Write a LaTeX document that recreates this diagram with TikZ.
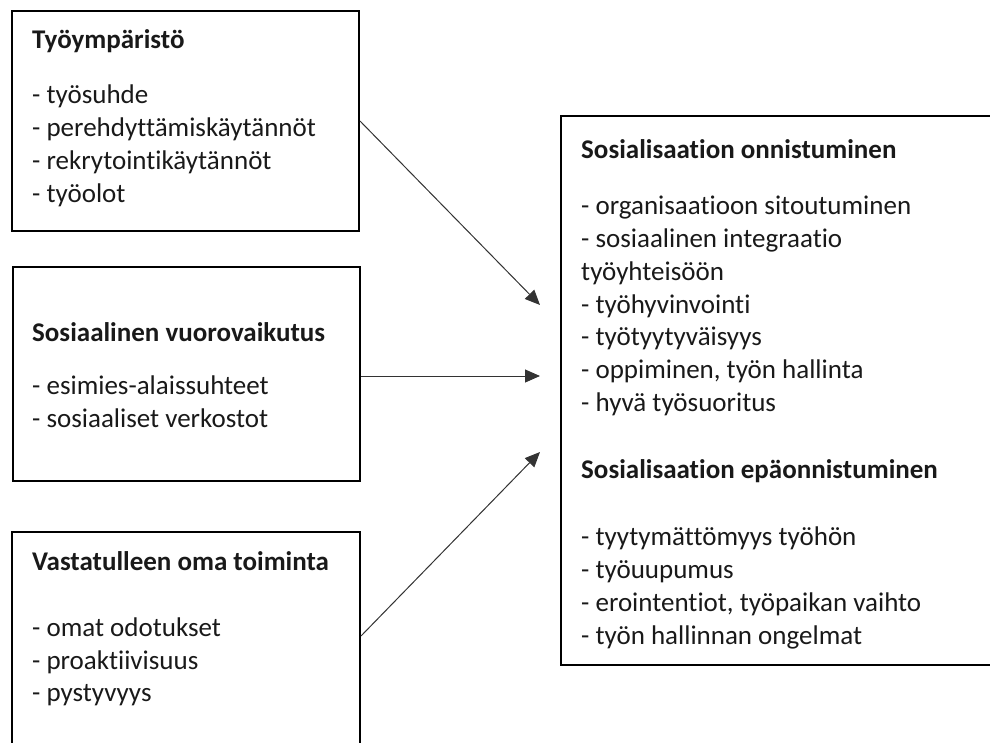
\documentclass[tikz,border=0pt]{standalone}
\usepackage{fontspec}
\setmainfont{Carlito}[Ligatures=NoCommon]
\usetikzlibrary{arrows.meta}
\begin{document}
\begin{tikzpicture}[x=1pt,y=-1pt,
  box/.style={draw=black,line width=2pt,fill=none,inner sep=0pt},
  txt/.style={anchor=base west,inner sep=0pt,text=black!90,font=\fontsize{27}{33}\selectfont},
  ttl/.style={txt,font=\fontsize{27}{33}\selectfont\bfseries},
  conn/.style={draw=black!80,line width=1pt,-{Triangle[length=15pt,width=13pt]}}]
\useasboundingbox (0,0) rectangle (990,742);
\clip (0,0) rectangle (990,742);
% boxes
\node[box,minimum width=347pt,minimum height=220pt] (b1) at (185.5,121) {};
\node[box,minimum width=347pt,minimum height=214pt] (b2) at (186.5,374) {};
\node[box,minimum width=348pt,minimum height=230pt] (b3) at (186,647) {};
\node[box,minimum width=439pt,minimum height=549pt] (r) at (780.5,390.5) {};
% box 1 text
\node[ttl] (t1) at (32,48) {Työympäristö};
\node[txt] (t1a) at (32,103) {- työsuhde};
\node[txt] (t1b) at (32,136) {- perehdyttämiskäytännöt};
\node[txt] (t1c) at (32,169) {- rekrytointikäytännöt};
\node[txt] (t1d) at (32,202) {- työolot};
% box 2 text
\node[ttl] (t2) at (32,341) {Sosiaalinen vuorovaikutus};
\node[txt] (t2a) at (32,394) {- esimies-alaissuhteet};
\node[txt] (t2b) at (32,427) {- sosiaaliset verkostot};
% box 3 text
\node[ttl] (t3) at (32,570) {Vastatulleen oma toiminta};
\node[txt] (t3a) at (32,636) {- omat odotukset};
\node[txt] (t3b) at (32,669) {- proaktiivisuus};
\node[txt] (t3c) at (32,701) {- pystyvyys};
% right box text
\node[ttl] (r1) at (581,158) {Sosialisaation onnistuminen};
\node[txt] (r1a) at (581,214) {- organisaatioon sitoutuminen};
\node[txt] (r1b) at (581,247) {- sosiaalinen integraatio};
\node[txt] (r1c) at (581,280) {työyhteisöön};
\node[txt] (r1d) at (581,313) {- työhyvinvointi};
\node[txt] (r1e) at (581,345) {- työtyytyväisyys};
\node[txt] (r1f) at (581,378) {- oppiminen, työn hallinta};
\node[txt] (r1g) at (581,411) {- hyvä työsuoritus};
\node[ttl] (r2) at (581,478) {Sosialisaation epäonnistuminen};
\node[txt] (r2a) at (581,545) {- tyytymättömyys työhön};
\node[txt] (r2b) at (581,578) {- työuupumus};
\node[txt] (r2c) at (581,611) {- erointentiot, työpaikan vaihto};
\node[txt] (r2d) at (581,644) {- työn hallinnan ongelmat};
% arrow tips
\coordinate (p1) at (540,305);
\coordinate (p2) at (540,376);
\coordinate (p3) at (540,452);
% connectors
\draw[conn] (b1.east) -- (p1);
\draw[conn] ([yshift=-2pt]b2.east) -- (p2);
\draw[conn] ([yshift=-105pt]b3.north east) -- (p3);
\end{tikzpicture}
\end{document}
